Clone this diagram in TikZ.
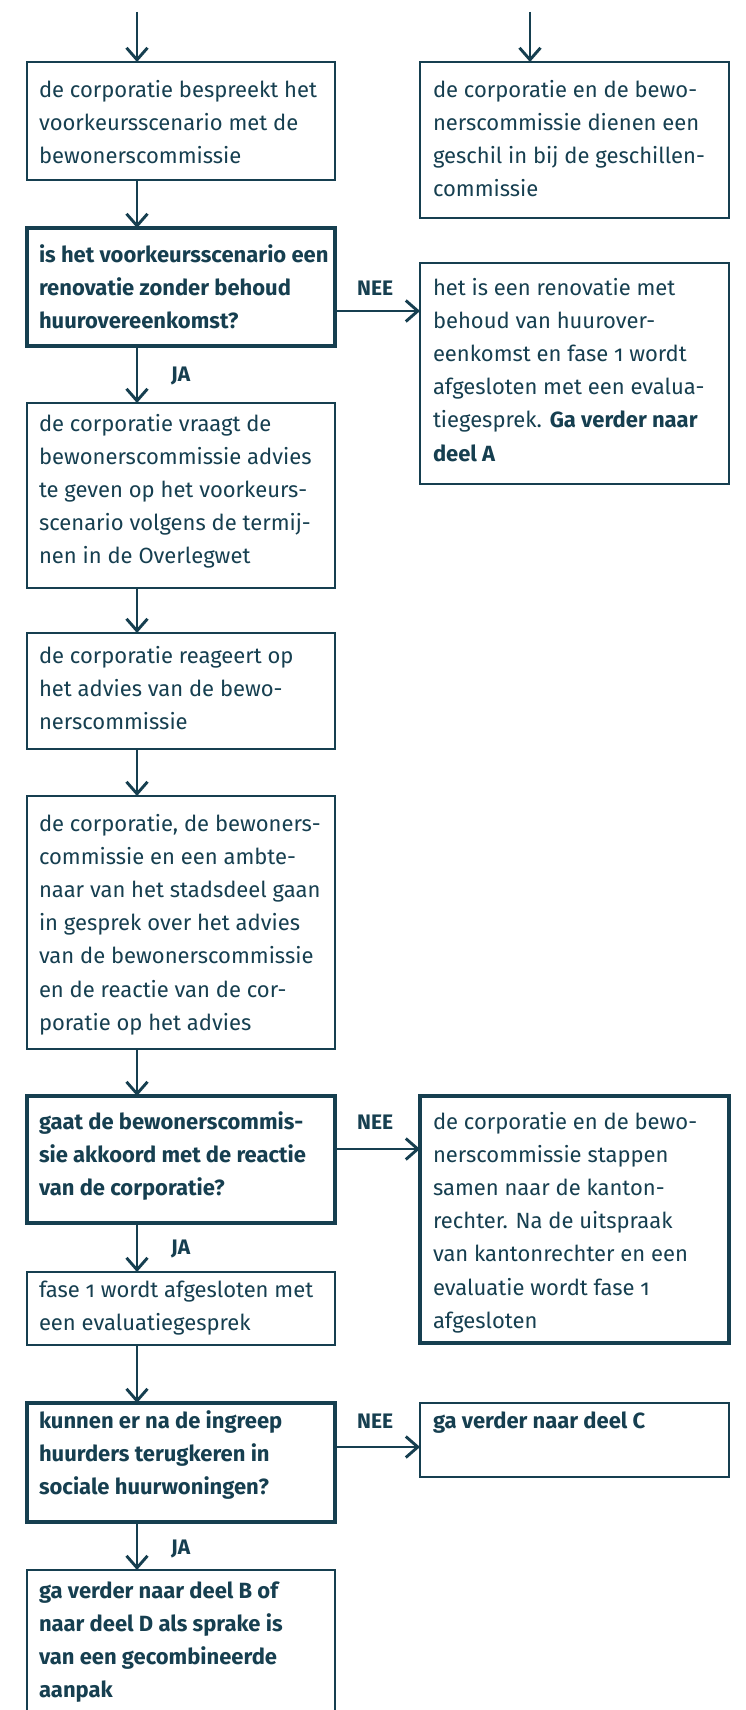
\documentclass[tikz,border=0pt]{standalone}
\usepackage{fontspec}
\setmainfont{Fira Sans}[Numbers=OldStyle]
\usetikzlibrary{arrows.meta}
\definecolor{dk}{HTML}{163F50}
\newcommand{\toprule}{\rule{0pt}{23.24pt}}
\tikzset{
  box/.style={draw=dk, line width=1.4pt, anchor=north west, inner sep=0pt, outer sep=0pt},
  thickbox/.style={box, line width=3.4pt},
  txt/.style={anchor=north west, inner sep=0pt, outer sep=0pt, align=left, text=dk,
    font=\fontsize{22}{33.2}\selectfont},
  btxt/.style={txt, font=\fontsize{22}{33.2}\selectfont\bfseries},
  lbl/.style={anchor=base west, inner sep=0pt, text=dk, font=\fontsize{21}{24}\selectfont\bfseries},
  arr/.style={draw=dk, line width=2.9pt, -{Straight Barb[length=12pt,width=21pt]}}
}
\begin{document}
\begin{tikzpicture}[x=1pt,y=-1pt]
\useasboundingbox (0,0) rectangle (745,1710);
\fill[white] (0,0) rectangle (745,1710);
% boxes
\node[box, minimum width=308, minimum height=118] (b1) at (27,62) {};
\node[box, minimum width=309, minimum height=156] (r1) at (420,62) {};
\node[thickbox, minimum width=308, minimum height=118] (d1) at (27,228) {};
\node[box, minimum width=309, minimum height=221] (r2) at (420,263) {};
\node[box, minimum width=308, minimum height=185] (b3) at (27,403) {};
\node[box, minimum width=308, minimum height=116] (b4) at (27,633) {};
\node[box, minimum width=308, minimum height=253] (b5) at (27,796) {};
\node[thickbox, minimum width=308, minimum height=127] (d2) at (27,1096) {};
\node[thickbox, minimum width=309, minimum height=247] (r3) at (420,1096) {};
\node[box, minimum width=308, minimum height=73] (b6) at (27,1272) {};
\node[thickbox, minimum width=308, minimum height=119] (d3) at (27,1403) {};
\node[box, minimum width=309, minimum height=74] (r4) at (420,1403) {};
\node[box, minimum width=308, minimum height=170] (b7) at (27,1570) {};
% texts
\node[txt] (t1) at (39,73.8) {\toprule de corporatie bespreekt het\\voorkeursscenario met de\\bewonerscommissie};
\node[txt] (tr1) at (433,73.8) {\toprule de corporatie en de bewo-\\nerscommissie dienen een\\geschil in bij de geschillen-\\commissie};
\node[btxt] (td1) at (39,238.8) {\toprule is het voorkeursscenario een\\renovatie zonder behoud\\huurovereenkomst?};
\node[txt] (tr2) at (433,271.8) {\toprule het is een renovatie met\\behoud van huurover-\\eenkomst en fase 1 wordt\\afgesloten met een evalua-\\tiegesprek. \textbf{Ga verder naar}\\\textbf{deel A}};
\node[txt] (t3) at (39,407.8) {\toprule de corporatie vraagt de\\bewonerscommissie advies\\te geven op het voorkeurs-\\scenario volgens de termij-\\nen in de Overlegwet};
\node[txt] (t4) at (39,639.8) {\toprule de corporatie reageert op\\het advies van de bewo-\\nerscommissie};
\node[txt] (t5) at (39,807.8) {\toprule de corporatie, de bewoners-\\commissie en een ambte-\\naar van het stadsdeel gaan\\in gesprek over het advies\\van de bewonerscommissie\\en de reactie van de cor-\\poratie op het advies};
\node[btxt] (td2) at (39,1105.8) {\toprule gaat de bewonerscommis-\\sie akkoord met de reactie\\van de corporatie?};
\node[txt] (tr3) at (433,1105.8) {\toprule de corporatie en de bewo-\\nerscommissie stappen\\samen naar de kanton-\\rechter. Na de uitspraak\\van kantonrechter en een\\evaluatie wordt fase 1\\afgesloten};
\node[txt] (t6) at (39,1273.8) {\toprule fase 1 wordt afgesloten met\\een evaluatiegesprek};
\node[btxt] (td3) at (39,1404.8) {\toprule kunnen er na de ingreep\\huurders terugkeren in\\sociale huurwoningen?};
\node[btxt] (tr4) at (433,1404.8) {\toprule ga verder naar deel C};
\node[btxt] (t7) at (39,1574.8) {\toprule ga verder naar deel B of\\naar deel D als sprake is\\van een gecombineerde\\aanpak};
% labels
\node[lbl] (n1) at (357,295.5) {NEE};
\node[lbl] (n2) at (357,1129) {NEE};
\node[lbl] (n3) at (357,1428) {NEE};
\node[lbl] (j1) at (171,381) {JA};
\node[lbl] (j2) at (171,1254) {JA};
\node[lbl] (j3) at (171,1554) {JA};
% connector helpers
\coordinate (ax) at (137,0);
\coordinate (s1) at (137,12);
\coordinate (s2) at (530,12);
\coordinate (h1) at (0,311);
\coordinate (h2) at (0,1149);
\coordinate (h3) at (0,1447);
% connectors
\draw[arr] (s1) -- (b1.north -| s1);
\draw[arr] (s2) -- (r1.north -| s2);
\draw[arr] (b1.south -| ax) -- (d1.north -| ax);
\draw[arr] (d1.south -| ax) -- (b3.north -| ax);
\draw[arr] (b3.south -| ax) -- (b4.north -| ax);
\draw[arr] (b4.south -| ax) -- (b5.north -| ax);
\draw[arr] (b5.south -| ax) -- (d2.north -| ax);
\draw[arr] (d2.south -| ax) -- (b6.north -| ax);
\draw[arr] (b6.south -| ax) -- (d3.north -| ax);
\draw[arr] (d3.south -| ax) -- (b7.north -| ax);
\draw[arr] (d1.east |- h1) -- (r2.west |- h1);
\draw[arr] (d2.east |- h2) -- (r3.west |- h2);
\draw[arr] (d3.east |- h3) -- (r4.west |- h3);
\end{tikzpicture}
\end{document}
